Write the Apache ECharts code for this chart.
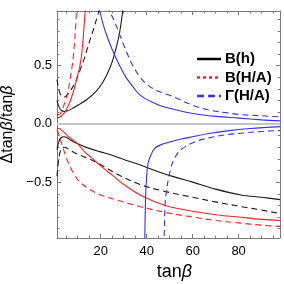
<!DOCTYPE html>
<html><head><meta charset="utf-8">
<script src="https://cdn.jsdelivr.net/npm/echarts@6/dist/echarts.min.js"></script>
<style>html,body{margin:0;padding:0;background:#fff}#c{width:284px;height:284px}</style>
</head><body><div id="c"></div>
<script>
// tick values
var xMajor = [20, 40, 60, 80];
var xMinor = [5, 10, 15, 25, 30, 35, 45, 50, 55, 65, 70, 75, 85, 90, 95];
var yMajor = [-0.5, 0, 0.5];
var yMinor = [-0.9, -0.8, -0.7, -0.6, -0.4, -0.3, -0.2, -0.1, 0.1, 0.2, 0.3, 0.4, 0.6, 0.7, 0.8, 0.9];

// curves: [tanBeta, delta]
var blackSolidUp = [[1,0.2],[2,0.14],[3,0.115],[4,0.108],[5,0.11],[7,0.125],[10,0.16],[14,0.21],[18,0.28],[21,0.36],[24,0.48],[26,0.6],[28,0.76],[29.6,0.97],[30.1,1.05]];
var blackDashedUp = [[1,0.38],[2,0.28],[3,0.24],[4,0.23],[5,0.24],[7,0.29],[9,0.36],[11,0.46],[13,0.57],[15,0.7],[17,0.82],[18.5,0.92],[19.2,0.97],[19.6,1.02]];
var redSolidUp = [[1,0.05],[2,0.055],[3,0.07],[4,0.09],[5,0.12],[6,0.16],[7,0.21],[8,0.27],[9,0.34],[10,0.42],[11,0.5],[12,0.65],[13,0.9],[13.4,1.02]];
var redDashedUp = [[1,0.08],[2,0.08],[3,0.11],[4,0.16],[5,0.22],[6,0.3],[7,0.42],[8,0.56],[9,0.8],[9.6,1.02]];
var blueSolidUp = [[19.3,1.02],[19.6,0.97],[21,0.86],[23,0.74],[25,0.64],[28,0.51],[31,0.4],[34,0.32],[37,0.25],[42,0.19],[47,0.15],[53,0.12],[60,0.09],[70,0.065],[80,0.05],[90,0.035],[98,0.026]];
var blueDashedUp = [[23.5,1.02],[23.9,0.97],[26,0.88],[28,0.78],[31,0.63],[34,0.5],[38,0.38],[43,0.3],[48,0.26],[52,0.23],[60,0.16],[67,0.12],[75,0.095],[81,0.08],[90,0.07],[98,0.06]];
var blackSolidLo = [[1,-0.22],[2,-0.14],[3,-0.115],[4,-0.11],[5,-0.115],[7,-0.14],[10,-0.17],[15,-0.21],[20,-0.24],[25,-0.27],[30,-0.305],[37,-0.35],[45,-0.41],[52,-0.455],[60,-0.5],[70,-0.56],[81,-0.61],[90,-0.63],[98,-0.65]];
var blackDashedLo = [[1,-0.45],[2,-0.27],[3,-0.21],[4,-0.2],[5,-0.205],[7,-0.23],[10,-0.26],[15,-0.3],[20,-0.35],[27,-0.43],[37,-0.52],[48,-0.58],[60,-0.63],[70,-0.67],[81,-0.71],[90,-0.74],[98,-0.77]];
var redSolidLo = [[1,-0.04],[2,-0.04],[3,-0.055],[4,-0.07],[6,-0.11],[8,-0.14],[10,-0.17],[13,-0.24],[16,-0.29],[20,-0.36],[25,-0.44],[30,-0.52],[38,-0.62],[48,-0.7],[60,-0.75],[70,-0.78],[80,-0.8],[90,-0.82],[98,-0.83]];
var redDashedLo = [[1,-0.05],[2,-0.1],[3,-0.17],[4,-0.23],[5,-0.29],[7,-0.38],[9,-0.45],[11,-0.5],[15,-0.56],[20,-0.61],[28,-0.66],[37,-0.71],[48,-0.76],[60,-0.8],[70,-0.83],[80,-0.85],[90,-0.87],[98,-0.88]];
var blueSolidLo = [[39.15,-1.05],[39.2,-0.98],[39.5,-0.65],[40,-0.45],[40.7,-0.33],[42,-0.26],[43.5,-0.21],[46,-0.18],[50,-0.155],[55,-0.13],[60,-0.11],[67,-0.083],[75,-0.06],[85,-0.04],[98,-0.023]];
var blueDashedLo = [[47.55,-1.05],[47.6,-0.98],[48,-0.7],[48.6,-0.58],[50,-0.42],[52,-0.3],[55,-0.22],[60.8,-0.155],[67,-0.12],[74,-0.095],[81,-0.08],[90,-0.065],[98,-0.057]];

var legendNames = ['B(h)', 'B(H/A)', 'Γ(H/A)'];

var BLACK = '#1a1a1a', RED = '#ff2020', BLUE = '#3030ff', FRAME = '#7a7a7a';
var DASH = [6, 4];

function curve(data, color, dashed) {
  return {type: 'line', data: data, smooth: 0.35, showSymbol: false, symbol: 'none', silent: true,
    clip: true, lineStyle: {color: color, width: 1.1, type: dashed ? DASH : 'solid'}, z: 3};
}

var series = [
  {type: 'line', data: [], symbol: 'none', silent: true,
   markLine: {silent: true, symbol: 'none', label: {show: false}, animation: false,
     lineStyle: {color: '#c4c4c4', width: 2, type: 'solid'}, data: [{yAxis: 0}]}, z: 1},
  curve(blackSolidUp, BLACK, false), curve(blackSolidLo, BLACK, false),
  curve(blackDashedUp, BLACK, true), curve(blackDashedLo, BLACK, true),
  curve(redSolidUp, RED, false), curve(redSolidLo, RED, false),
  curve(redDashedUp, RED, true), curve(redDashedLo, RED, true),
  curve(blueSolidUp, BLUE, false), curve(blueSolidLo, BLUE, false),
  curve(blueDashedUp, BLUE, true), curve(blueDashedLo, BLUE, true)
];

function xAx(pos, vals, len, labels, showLine) {
  return {type: 'value', min: 1, max: 98, position: pos, gridIndex: 0,
    axisLine: {show: showLine, onZero: false, lineStyle: {color: FRAME, width: 1}},
    axisTick: {show: true, inside: true, length: len, customValues: vals, lineStyle: {color: FRAME, width: 1}},
    axisLabel: labels ? {show: true, customValues: vals, fontSize: 13, color: '#000', margin: 7, fontFamily: 'Liberation Sans'} : {show: false},
    splitLine: {show: false}};
}
function yAx(pos, vals, len, labels, showLine) {
  return {type: 'value', min: -0.98, max: 0.97, position: pos, gridIndex: 0,
    axisLine: {show: showLine, onZero: false, lineStyle: {color: FRAME, width: 1}},
    axisTick: {show: true, inside: true, length: len, customValues: vals, lineStyle: {color: FRAME, width: 1}},
    axisLabel: labels ? {show: true, customValues: vals, fontSize: 13, color: '#000', margin: 5, fontFamily: 'Liberation Sans',
      formatter: function (v) { return (v < 0 ? '\u2212' : '') + Math.abs(v).toFixed(1); }} : {show: false},
    splitLine: {show: false}};
}

var xa0 = xAx('bottom', xMajor, 4, true, true);
xa0.name = 'tan{i|β}';
xa0.nameLocation = 'middle';
xa0.nameGap = 24;
xa0.nameTextStyle = {fontSize: 18, color: '#000', fontFamily: 'Liberation Sans', padding: [0, 0, 0, 12],
  rich: {i: {fontSize: 18, fontStyle: 'italic', fontFamily: 'Liberation Sans', color: '#000'}}};
var ya0 = yAx('left', yMajor, 4, true, true);
ya0.name = 'Δtan{i|β}/tan{i|β}';
ya0.nameLocation = 'middle';
ya0.nameGap = 34;
ya0.nameTextStyle = {fontSize: 16, color: '#000', fontFamily: 'Liberation Sans',
  rich: {i: {fontSize: 16, fontStyle: 'italic', fontFamily: 'Liberation Sans', color: '#000'}}};

var legendStyles = [
  {color: '#000', dash: null},
  {color: RED, dash: [3, 3]},
  {color: BLUE, dash: [7, 4]}
];
var graphic = [];
legendNames.forEach(function (n, i) {
  var y = 59 + i * 18.5;
  graphic.push({type: 'line', silent: true, shape: {x1: 197, y1: y, x2: 221, y2: y},
    style: {stroke: legendStyles[i].color, lineWidth: 2.5, lineDash: legendStyles[i].dash}});
  graphic.push({type: 'text', silent: true, x: 225, y: y,
    style: {text: n, fill: '#000', font: 'bold 15px "Liberation Sans"', verticalAlign: 'middle', align: 'left'}});
});

var option = {
  animation: false,
  backgroundColor: '#fff',
  grid: {left: 57, right: 4, top: 11, bottom: 46, containLabel: false, outerBoundsMode: 'none'},
  xAxis: [xa0, xAx('bottom', xMinor, 2.5, false, false), xAx('top', xMajor, 4, false, true), xAx('top', xMinor, 2.5, false, false)],
  yAxis: [ya0, yAx('left', yMinor, 2.5, false, false), yAx('right', yMajor, 4, false, true), yAx('right', yMinor, 2.5, false, false)],
  graphic: graphic,
  series: series
};
var chart = echarts.init(document.getElementById('c'), null, {renderer: 'canvas'});
chart.setOption(option);
</script></body></html>
